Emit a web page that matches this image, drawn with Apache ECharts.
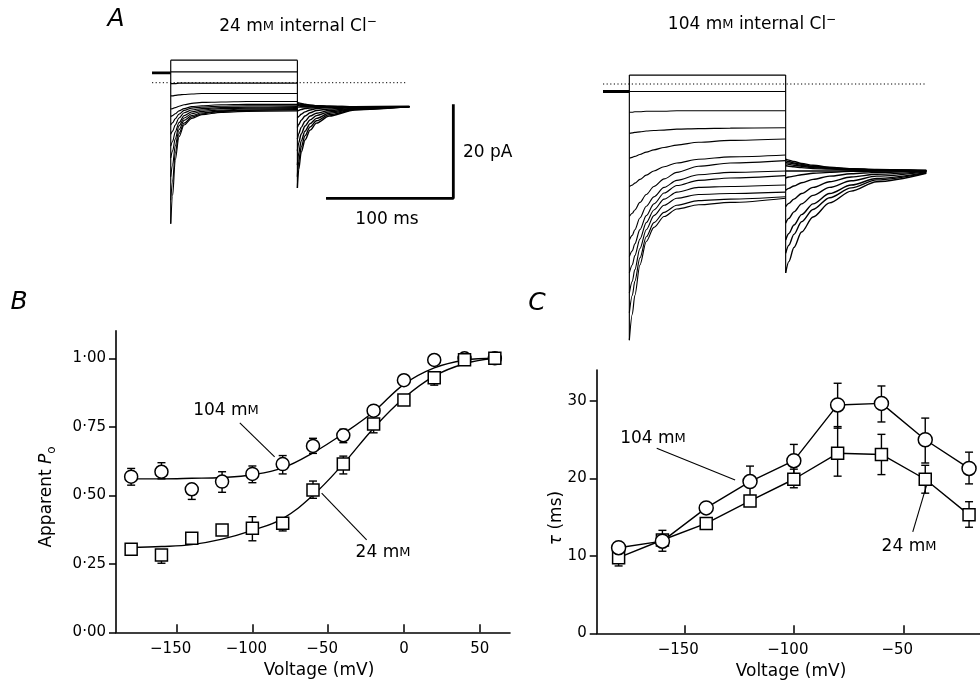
<!DOCTYPE html>
<html><head><meta charset="utf-8">
<script src="https://cdn.jsdelivr.net/npm/echarts@6/dist/echarts.min.js"></script>
<style>html,body{margin:0;padding:0;background:#fff}#c{width:980px;height:684px}</style>
</head><body><div id="c"></div>
<script>
const FF = '"DejaVu Sans", "Liberation Sans", Arial, sans-serif';

// ---------- Panel A : current traces (ms, pA) ----------
const leftHoldI = 2.1;
const leftHoldT = [0.8, 15.5];
const leftZeroT = [0.8, 200.8];
const leftPulseT = [15.5, 17, 19, 22, 26, 32, 40, 55, 75, 115];
const leftPulse = [
  [4.8, 4.8, 4.8, 4.8, 4.8, 4.8, 4.8, 4.8, 4.8, 4.8],
  [2.3, 2.3, 2.3, 2.3, 2.3, 2.3, 2.3, 2.3, 2.3, 2.3],
  [-0.2, -0.2, -0.2, -0.1, -0.1, -0.1, -0.1, -0.1, -0.1, -0.1],
  [-2.8, -2.8, -2.7, -2.6, -2.5, -2.4, -2.3, -2.3, -2.3, -2.3],
  [-5.6, -5.5, -5.3, -5.0, -4.7, -4.4, -4.2, -4.1, -4.0, -4.0],
  [-7.2, -7.0, -6.6, -6.0, -5.5, -5.1, -4.9, -4.7, -4.6, -4.6],
  [-9.0, -8.5, -7.7, -6.7, -5.9, -5.4, -5.2, -5.0, -4.9, -4.9],
  [-11.0, -10.3, -9.0, -7.5, -6.4, -5.8, -5.5, -5.3, -5.2, -5.1],
  [-13.5, -12.5, -10.5, -8.5, -7.0, -6.2, -5.8, -5.5, -5.4, -5.3],
  [-16.0, -14.5, -12.0, -9.2, -7.5, -6.6, -6.1, -5.8, -5.6, -5.5],
  [-20.0, -17.5, -13.5, -10.0, -8.0, -7.0, -6.4, -6.0, -5.8, -5.7],
  [-25.0, -21.0, -15.0, -10.8, -8.6, -7.3, -6.6, -6.1, -5.9, -5.8],
  [-30.0, -24.0, -16.5, -11.5, -9.0, -7.6, -6.8, -6.3, -6.1, -6.0]
];
const leftTailT = [115, 116, 118, 121, 125, 130, 140, 160, 203];
const leftTail = [
  [-4.2, -4.3, -4.4, -4.6, -4.8, -4.9, -5.0, -5.1, -5.1],
  [-4.4, -4.5, -4.6, -4.7, -4.8, -4.9, -5.0, -5.1, -5.1],
  [-4.6, -4.7, -4.8, -4.9, -5.0, -5.0, -5.1, -5.1, -5.1],
  [-4.8, -4.9, -5.0, -5.0, -5.1, -5.1, -5.1, -5.1, -5.1],
  [-5.2, -5.2, -5.2, -5.2, -5.2, -5.2, -5.1, -5.1, -5.1],
  [-6.0, -5.9, -5.7, -5.5, -5.4, -5.3, -5.2, -5.1, -5.0],
  [-7.5, -7.2, -6.7, -6.2, -5.8, -5.5, -5.3, -5.2, -5.1],
  [-9.5, -8.9, -8.0, -7.1, -6.4, -5.9, -5.6, -5.3, -5.1],
  [-12.0, -10.9, -9.5, -8.2, -7.1, -6.5, -5.9, -5.4, -5.1],
  [-14.5, -12.8, -10.9, -9.2, -7.9, -7.0, -6.2, -5.5, -5.1],
  [-17.5, -15.0, -12.4, -10.3, -8.7, -7.6, -6.5, -5.6, -5.1],
  [-20.0, -16.8, -13.7, -11.3, -9.4, -8.1, -6.8, -5.7, -5.1],
  [-22.4, -18.5, -14.8, -12.2, -10.1, -8.6, -7.1, -5.8, -5.1]
];
const scaleBarT = [137.5, 237.5, 237.5];
const scaleBarI = [-24.6, -24.6, -4.6];

const rightHoldI = -1.6;
const rightHoldT = [0, 20.7];
const rightZeroT = [0, 253];
const rightPulseT = [20.7, 23, 25, 29, 34, 40, 48, 58, 75, 100, 143.5];
const rightPulse = [
  [1.9, 1.9, 1.9, 1.9, 1.9, 1.9, 1.9, 1.9, 1.9, 1.9, 1.9],
  [-1.6, -1.6, -1.6, -1.6, -1.6, -1.6, -1.6, -1.6, -1.6, -1.6, -1.6],
  [-6.0, -6.0, -5.9, -5.9, -5.8, -5.8, -5.8, -5.7, -5.7, -5.7, -5.7],
  [-10.5, -10.4, -10.3, -10.2, -10.0, -9.9, -9.8, -9.6, -9.5, -9.4, -9.3],
  [-15.8, -15.6, -15.4, -15.0, -14.5, -14.0, -13.5, -13.0, -12.4, -12.0, -11.7],
  [-21.8, -21.5, -21.1, -20.3, -19.4, -18.5, -17.6, -16.8, -16.0, -15.5, -15.1],
  [-28.2, -27.5, -26.8, -25.2, -23.5, -21.8, -20.2, -18.8, -17.5, -16.8, -16.3],
  [-33.2, -32.2, -31.0, -28.5, -26.0, -24.0, -22.0, -20.5, -19.3, -18.8, -18.5],
  [-36.7, -35.5, -34.0, -31.0, -28.0, -25.5, -23.2, -21.6, -20.5, -20.0, -19.5],
  [-40.2, -38.5, -36.5, -33.0, -29.5, -26.8, -24.5, -23.0, -22.0, -21.8, -21.5],
  [-44.5, -42.0, -39.5, -35.0, -31.0, -28.0, -25.8, -24.3, -23.5, -23.3, -23.0],
  [-48.7, -45.0, -42.0, -37.0, -32.5, -29.5, -27.3, -25.8, -24.8, -24.5, -24.0],
  [-54.5, -49.0, -45.0, -38.5, -33.5, -30.5, -28.2, -26.6, -25.7, -25.2, -24.3]
];
const rightTailT = [143.5, 146, 150, 156, 165, 178, 195, 215, 254];
const rightTail = [
  [-16.0, -16.2, -16.5, -16.9, -17.3, -17.7, -18.0, -18.2, -18.4],
  [-16.3, -16.5, -16.8, -17.1, -17.5, -17.8, -18.1, -18.3, -18.4],
  [-16.6, -16.8, -17.0, -17.3, -17.6, -17.9, -18.1, -18.3, -18.5],
  [-17.0, -17.1, -17.3, -17.5, -17.8, -18.0, -18.2, -18.3, -18.5],
  [-17.4, -17.5, -17.6, -17.8, -18.0, -18.1, -18.3, -18.4, -18.5],
  [-18.5, -18.5, -18.5, -18.5, -18.5, -18.5, -18.5, -18.5, -18.5],
  [-20.0, -19.8, -19.6, -19.3, -19.0, -18.8, -18.6, -18.5, -18.4],
  [-22.6, -22.2, -21.7, -21.0, -20.3, -19.6, -19.1, -18.8, -18.5],
  [-26.1, -25.4, -24.5, -23.3, -22.0, -20.8, -19.8, -19.2, -18.6],
  [-29.6, -28.6, -27.2, -25.5, -23.7, -22.0, -20.6, -19.6, -18.7],
  [-33.2, -31.8, -30.0, -27.8, -25.5, -23.3, -21.5, -20.1, -18.8],
  [-36.0, -34.3, -32.0, -29.3, -26.7, -24.2, -22.1, -20.4, -18.9],
  [-40.2, -37.8, -34.8, -31.5, -28.3, -25.3, -22.8, -20.8, -19.0]
];

// ---------- Panel B : apparent Po ----------
const voltB = [-180, -160, -140, -120, -100, -80, -60, -40, -20, 0, 20, 40, 60];
const po104 = [0.568, 0.586, 0.522, 0.55, 0.578, 0.614, 0.68, 0.719, 0.809, 0.92, 0.994, 1.0, 1.0];
const po104Lo = [0.537, 0.56, 0.485, 0.511, 0.546, 0.578, 0.653, 0.692, 0.80, null, null, null, null];
const po104Hi = [0.598, 0.619, 0.54, 0.586, 0.607, 0.645, 0.708, 0.741, 0.82, null, null, null, null];
const po24 = [0.303, 0.282, 0.343, 0.373, 0.38, 0.398, 0.519, 0.614, 0.76, 0.848, 0.929, 0.995, 1.0];
const po24Lo = [null, 0.252, null, null, 0.334, 0.37, 0.489, 0.578, 0.728, null, 0.902, null, null];
const po24Hi = [null, 0.30, null, null, 0.422, 0.41, 0.552, 0.643, 0.795, null, 0.95, null, null];
const fit104 = [0.56, 0.56, 0.562, 0.565, 0.575, 0.60, 0.655, 0.725, 0.805, 0.905, 0.965, 0.993, 1.0];
const fit24 = [0.31, 0.313, 0.32, 0.34, 0.372, 0.415, 0.50, 0.615, 0.745, 0.855, 0.935, 0.98, 1.0];
const ticksBx = [-150, -100, -50, 0, 50];
const ticksBy = [0, 0.25, 0.5, 0.75, 1.0];
const pointerB104 = [[-108.3, 0.764], [-85.3, 0.64]];
const pointerB24 = [[-54.3, 0.508], [-24.6, 0.337]];

// ---------- Panel C : tau ----------
const voltC = [-180, -160, -140, -120, -100, -80, -60, -40, -20];
const tau104 = [11.06, 11.9, 16.2, 19.6, 22.3, 29.5, 29.7, 25.0, 21.3];
const tau104Lo = [null, null, null, 17.8, 20.5, 26.5, 27.3, 22.0, 19.3];
const tau104Hi = [null, null, null, 21.6, 24.4, 32.3, 31.95, 27.8, 23.4];
const tau24 = [9.77, 12.05, 14.2, 17.1, 19.9, 23.25, 23.1, 19.9, 15.3];
const tau24Lo = [8.7, 10.6, null, null, 18.8, 20.3, 20.5, 18.1, 13.7];
const tau24Hi = [10.5, 13.3, null, null, 21.2, 26.7, 25.7, 21.7, 17.0];
const ticksCx = [-150, -100, -50];
const ticksCy = [0, 10, 20, 30];
const pointerC104 = [[-162.6, 23.9], [-126.8, 19.8]];
const pointerC24 = [[-45.7, 13.1], [-39.3, 19.2]];

// ---------- build ----------
const series = [];
const INK = '#000';

function lineSeries(g, data, extra) {
  return Object.assign({
    type: 'line', xAxisIndex: g, yAxisIndex: g, data: data, symbol: 'none',
    silent: true, animation: false, lineStyle: { color: INK, width: 1.15 }, z: 3
  }, extra || {});
}

function addTraces(g, holdT, holdI, pT, pulse, tT, tail, zeroT) {
  series.push(lineSeries(g, [[zeroT[0], 0], [zeroT[1], 0]], { lineStyle: { color: INK, width: 1, type: [1.2, 2.4] }, z: 2 }));
  series.push(lineSeries(g, [[holdT[0], holdI], [holdT[1], holdI]], { lineStyle: { color: INK, width: 2.8 } }));
  pulse.forEach(row => series.push(lineSeries(g, row.map((v, i) => [pT[i], v]), { smooth: 0.3, smoothMonotone: 'x' })));
  tail.forEach(row => series.push(lineSeries(g, row.map((v, i) => [tT[i], v]), { smooth: 0.3, smoothMonotone: 'x', lineStyle: { color: INK, width: 1.4 } })));
  const firsts = pulse.map(r => r[0]);
  const lasts = pulse.map(r => r[r.length - 1]);
  const tailFirsts = tail.map(r => r[0]);
  series.push(lineSeries(g, [[pT[0], Math.max(holdI, ...firsts)], [pT[0], Math.min(...firsts)]]));
  series.push(lineSeries(g, [[tT[0], Math.max(...lasts, ...tailFirsts)], [tT[0], Math.min(...lasts, ...tailFirsts)]]));
}
addTraces(0, leftHoldT, leftHoldI, leftPulseT, leftPulse, leftTailT, leftTail, leftZeroT);
addTraces(1, rightHoldT, rightHoldI, rightPulseT, rightPulse, rightTailT, rightTail, rightZeroT);
series.push(lineSeries(0, scaleBarT.map((t, i) => [t, scaleBarI[i]]), { lineStyle: { color: INK, width: 2.8 } }));

function errSeries(g, xs, lo, hi) {
  const data = [];
  xs.forEach((x, i) => { if (lo[i] != null && hi[i] != null) data.push([x, lo[i], hi[i]]); });
  return {
    type: 'custom', xAxisIndex: g, yAxisIndex: g, data: data, silent: true, z: 2,
    encode: { x: 0, y: [1, 2] },
    renderItem: function (params, api) {
      const x = api.value(0);
      const a = api.coord([x, api.value(1)]);
      const b = api.coord([x, api.value(2)]);
      const w = 4;
      const st = { stroke: INK, lineWidth: 1.4 };
      return {
        type: 'group', children: [
          { type: 'line', shape: { x1: a[0], y1: a[1], x2: b[0], y2: b[1] }, style: st },
          { type: 'line', shape: { x1: a[0] - w, y1: a[1], x2: a[0] + w, y2: a[1] }, style: st },
          { type: 'line', shape: { x1: b[0] - w, y1: b[1], x2: b[0] + w, y2: b[1] }, style: st }
        ]
      };
    }
  };
}
const markerStyle = { color: '#fff', borderColor: INK, borderWidth: 1.5, opacity: 1 };

// Panel B
series.push(errSeries(2, voltB, po104Lo, po104Hi));
series.push(errSeries(2, voltB, po24Lo, po24Hi));
series.push(lineSeries(2, voltB.map((v, i) => [v, fit104[i]]), { smooth: 0.4, lineStyle: { color: INK, width: 1.4 } }));
series.push(lineSeries(2, voltB.map((v, i) => [v, fit24[i]]), { smooth: 0.4, lineStyle: { color: INK, width: 1.4 } }));
series.push(lineSeries(2, pointerB104, { lineStyle: { color: INK, width: 1.1 } }));
series.push(lineSeries(2, pointerB24, { lineStyle: { color: INK, width: 1.1 } }));
series.push({ type: 'scatter', xAxisIndex: 2, yAxisIndex: 2, symbol: 'circle', symbolSize: 13, itemStyle: markerStyle, z: 5, silent: true, data: voltB.map((v, i) => [v, po104[i]]) });
series.push({ type: 'scatter', xAxisIndex: 2, yAxisIndex: 2, symbol: 'rect', symbolSize: 12, itemStyle: markerStyle, z: 5, silent: true, data: voltB.map((v, i) => [v, po24[i]]) });

// Panel C
series.push(errSeries(3, voltC, tau104Lo, tau104Hi));
series.push(errSeries(3, voltC, tau24Lo, tau24Hi));
series.push(lineSeries(3, pointerC104, { lineStyle: { color: INK, width: 1.1 } }));
series.push(lineSeries(3, pointerC24, { lineStyle: { color: INK, width: 1.1 } }));
series.push(lineSeries(3, voltC.map((v, i) => [v, tau24[i]]), { symbol: 'rect', symbolSize: 12, showSymbol: true, itemStyle: markerStyle, lineStyle: { color: INK, width: 1.4 }, z: 5 }));
series.push(lineSeries(3, voltC.map((v, i) => [v, tau104[i]]), { symbol: 'circle', symbolSize: 14, showSymbol: true, itemStyle: markerStyle, lineStyle: { color: INK, width: 1.4 }, z: 5 }));

// axes
const negRich = {
  n: { padding: [0, 12, 0, 0], fontSize: 15, fontFamily: FF, color: INK },
  p: { fontSize: 15, fontFamily: FF, color: INK }
};
function xFmt(v) { return v < 0 ? '{n|\u2212' + Math.abs(v) + '}' : '{p|' + v + '}'; }
function visAxisX(g, min, max, ticks) {
  return {
    type: 'value', gridIndex: g, min: min, max: max,
    axisLine: { show: true, onZero: false, lineStyle: { color: INK, width: 1.6 } },
    axisTick: { show: true, inside: true, length: 8, customValues: ticks, lineStyle: { color: INK, width: 1.5 } },
    axisLabel: { show: true, customValues: ticks, formatter: xFmt, rich: negRich, margin: 9, fontSize: 15, fontFamily: FF, color: INK },
    splitLine: { show: false }
  };
}
function visAxisY(g, min, max, ticks, fmt) {
  return {
    type: 'value', gridIndex: g, min: min, max: max,
    axisLine: { show: true, onZero: false, lineStyle: { color: INK, width: 1.6 } },
    axisTick: { show: true, inside: false, length: 7, customValues: ticks, lineStyle: { color: INK, width: 1.5 } },
    axisLabel: { show: true, customValues: ticks, formatter: fmt, margin: 10, fontSize: 15, fontFamily: FF, color: INK },
    splitLine: { show: false }
  };
}
const hidden = (g, min, max) => ({ type: 'value', gridIndex: g, min: min, max: max, show: false, splitLine: { show: false } });

function txt(text, x, y, size, extra) {
  return Object.assign({
    type: 'text', x: x, y: y, silent: true,
    style: Object.assign({
      text: text, fontSize: size, fontFamily: FF, fill: INK, align: 'center', verticalAlign: 'middle',
      rich: {
        sc: { fontSize: Math.round(size * 0.76), fontFamily: FF, fill: INK },
        sup: { fontSize: Math.round(size * 0.7), fontFamily: FF, fill: INK, padding: [0, 0, 11, 0] },
        sub: { fontSize: Math.round(size * 0.7), fontFamily: FF, fill: INK, padding: [9, 0, 0, 0] },
        i: { fontSize: size, fontFamily: FF, fill: INK, fontStyle: 'italic' }
      }
    }, (extra && extra.style) || {})
  }, extra && extra.rotation ? { rotation: extra.rotation } : {});
}

const graphics = [
  txt('A', 116, 19, 25, { style: { fontStyle: 'italic' } }),
  txt('B', 19, 302, 25, { style: { fontStyle: 'italic' } }),
  txt('C', 537, 303, 25, { style: { fontStyle: 'italic' } }),
  txt('24 m{sc|M} internal Cl{sup|\u2212}', 298, 27, 17),
  txt('104 m{sc|M} internal Cl{sup|\u2212}', 752, 25, 17),
  txt('20 pA', 463, 153, 17, { style: { align: 'left' } }),
  txt('100 ms', 387, 220, 17),
  txt('104 m{sc|M}', 226, 411, 17),
  txt('24 m{sc|M}', 383, 553, 17),
  txt('104 m{sc|M}', 653, 439, 17),
  txt('24 m{sc|M}', 909, 547, 17),
  txt('Voltage (mV)', 319, 671, 17),
  txt('Voltage (mV)', 791, 672, 17),
  txt('Apparent {i|P}{sub|o}', 47, 497, 17, { rotation: Math.PI / 2 }),
  txt('{i|\u03c4} (ms)', 557, 518, 17, { rotation: Math.PI / 2 })
];

const chart = echarts.init(document.getElementById('c'), null, { renderer: 'canvas' });
chart.setOption({
  animation: false,
  backgroundColor: '#fff',
  grid: [
    { left: 151, top: 49.8, width: 309, height: 183.3, outerBoundsMode: 'none' },
    { left: 603, top: 69.9, width: 323.3, height: 277.3, outerBoundsMode: 'none' },
    { left: 116, top: 330.9, width: 394, height: 301.4, outerBoundsMode: 'none' },
    { left: 596.7, top: 370.1, width: 383.3, height: 263.2, outerBoundsMode: 'none' }
  ],
  xAxis: [
    hidden(0, 0, 242.74),
    hidden(1, 0, 254),
    visAxisX(2, -190, 70, ticksBx),
    visAxisX(3, -190, -15, ticksCx)
  ],
  yAxis: [
    hidden(0, -32, 7),
    hidden(1, -56, 3),
    visAxisY(2, 0, 1.1, ticksBy, v => v.toFixed(2).replace('.', '\u00b7')),
    visAxisY(3, 0, 34, ticksCy, v => String(v))
  ],
  series: series,
  graphic: graphics
});
</script>
</body></html>
